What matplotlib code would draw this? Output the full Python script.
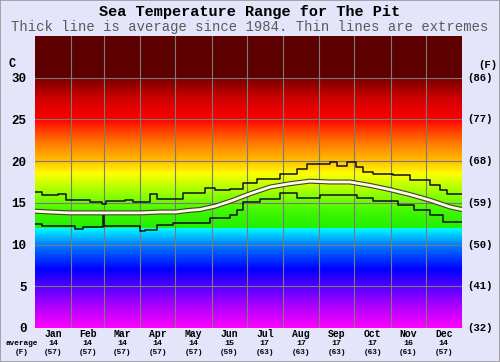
import numpy as np
import matplotlib
matplotlib.use("Agg")
import matplotlib.pyplot as plt
from matplotlib.colors import LinearSegmentedColormap
from matplotlib.patches import Rectangle
import matplotlib.transforms as mtransforms

# chart data
months = ["Jan", "Feb", "Mar", "Apr", "May", "Jun", "Jul", "Aug", "Sep", "Oct", "Nov", "Dec"]
month_days = [31, 28, 31, 30, 31, 30, 31, 31, 30, 31, 30, 31]
avg_c = [14, 14, 14, 14, 14, 15, 17, 17, 17, 17, 16, 14]
avg_f = [57, 57, 57, 57, 57, 59, 63, 63, 63, 63, 61, 57]

c_ticks = [0, 5, 10, 15, 20, 25, 30]
f_labels = ["(32)", "(41)", "(50)", "(59)", "(68)", "(77)", "(86)"]

# daily extremes, as steps (day of year, degC)
max_days = [0, 6, 20, 26.5, 47, 57, 61, 77, 84, 98, 104, 126.5, 145, 154, 167, 178, 190,
            209, 224, 232.5, 252, 258, 267, 274, 280, 289, 306, 320.5, 337.6, 346, 352, 365]
max_vals = [16.3, 16.0, 16.1, 15.4, 15.1, 14.9, 15.2, 15.4, 15.1, 16.1, 15.5, 16.2, 16.8, 16.6,
            16.7, 17.4, 17.8, 18.5, 19.0, 19.6, 19.9, 19.4, 19.9, 19.3, 18.7, 18.5, 18.3, 17.7,
            17.1, 16.6, 16.1, 16.1]

min_days = [0, 6, 34, 41, 58, 59, 90, 94, 104, 118, 150, 167, 173, 178, 192.5, 209, 224,
            244, 261, 275, 289, 310, 324, 338, 349, 365]
min_vals = [12.5, 12.2, 11.9, 12.1, 13.5, 12.2, 11.6, 11.7, 12.3, 12.6, 13.2, 13.5, 14.2, 15.1,
            15.5, 16.2, 15.6, 15.9, 16.0, 15.6, 15.2, 14.7, 14.1, 13.5, 12.7, 12.7]

avg_days = [0, 13, 30, 60, 90, 107, 120, 132, 141, 154, 167, 184, 201, 218, 235, 252,
            269, 286, 303, 320.5, 338, 355, 365]
avg_vals = [14.0, 13.9, 13.8, 13.8, 13.8, 13.9, 13.9, 14.1, 14.2, 14.6, 15.2, 16.1, 16.9,
            17.3, 17.6, 17.5, 17.5, 17.1, 16.6, 16.0, 15.3, 14.5, 14.2]

# colour band behind the plot
stops = [(0, "#ff00ff"), (2.5, "#b000ff"), (5, "#5000ff"), (7, "#0000ff"), (10, "#0080ff"),
         (11.97, "#00ffff"), (12.0, "#20f000"), (14, "#40f800"), (16, "#90ff00"),
         (17.5, "#d0ff00"), (18.5, "#ffff00"), (20, "#ffc000"), (22, "#ff8000"),
         (24, "#ff3000"), (25, "#ff0000"), (27.5, "#d00000"), (29.97, "#780000"),
         (30, "#5e0000"), (35, "#5e0000")]
ymax = 35
cmap = LinearSegmentedColormap.from_list("sea", [(t / ymax, c) for t, c in stops], N=1024)

bg = "#e4e4fa"
fig = plt.figure(figsize=(5, 3.62), dpi=100, facecolor=bg)
ax = fig.add_axes([0.07, 34 / 362, 0.854, 292 / 362])

grad = np.linspace(0, ymax, 700).reshape(-1, 1)
ax.imshow(grad, cmap=cmap, origin="lower", extent=[0, 365, 0, ymax], aspect="auto",
          vmin=0, vmax=ymax, interpolation="bilinear")
ax.set_xlim(0, 365)
ax.set_ylim(0, ymax)

# grid
bounds = np.cumsum(month_days)[:-1]
for b in bounds:
    ax.axvline(b, color="#7a7a7a", lw=0.8, zorder=2)
for t in c_ticks[1:]:
    ax.axhline(t, color="#7a7a7a", lw=0.8, zorder=2)

# extremes and average
ax.step(max_days, max_vals, where="post", color="#101010", lw=1.1, zorder=3)
ax.step(min_days, min_vals, where="post", color="#101010", lw=1.1, zorder=3)
ax.plot(avg_days, avg_vals, color="#404030", lw=3.6, zorder=4)
ax.plot(avg_days, avg_vals, color="#fffbe0", lw=2.0, zorder=5)

for s in ax.spines.values():
    s.set_visible(False)
ax.set_xticks([])
ax.set_yticks(c_ticks)
ax.set_yticklabels([str(t) for t in c_ticks], fontfamily="Liberation Mono",
                   fontweight="bold", fontsize=9)
ax.tick_params(axis="y", length=0, pad=6)

mono = "Liberation Mono"
trans_r = mtransforms.blended_transform_factory(ax.transAxes, ax.transData)
for t, lab in zip(c_ticks, f_labels):
    ax.text(1.012, t, lab, transform=trans_r, ha="left", va="center",
            fontfamily=mono, fontweight="bold", fontsize=7.7)

ax.text(-0.055, 30.9, "C", transform=trans_r, ha="center", va="bottom",
        fontfamily=mono, fontweight="bold", fontsize=8.5)
ax.text(1.06, 30.9, "(F)", transform=trans_r, ha="center", va="bottom",
        fontfamily=mono, fontweight="bold", fontsize=7.7)

# month labels under the plot
trans_b = mtransforms.blended_transform_factory(ax.transData, fig.transFigure)
starts = np.concatenate([[0], bounds])
for m, s, d, c, f in zip(months, starts, month_days, avg_c, avg_f):
    xc = s + d / 2
    ax.text(xc, 1 - 334 / 362, m, transform=trans_b, ha="center", va="center",
            fontfamily=mono, fontweight="bold", fontsize=7)
    ax.text(xc, 1 - 343.5 / 362, str(c), transform=trans_b, ha="center", va="center",
            fontfamily=mono, fontweight="bold", fontsize=6)
    ax.text(xc, 1 - 352.5 / 362, f"({f})", transform=trans_b, ha="center", va="center",
            fontfamily=mono, fontweight="bold", fontsize=5.6)
fig.text(22 / 500, 1 - 343.5 / 362, "average", ha="center", va="center",
         fontfamily=mono, fontweight="bold", fontsize=5.6)
fig.text(22 / 500, 1 - 352.5 / 362, "(F)", ha="center", va="center",
         fontfamily=mono, fontweight="bold", fontsize=5.6)

# titles
fig.text(0.5, 1 - 12 / 362, "Sea Temperature Range for The Pit", ha="center", va="center",
         fontfamily=mono, fontweight="bold", fontsize=11)
fig.text(0.5, 1 - 27 / 362, "Thick line is average since 1984. Thin lines are extremes",
         ha="center", va="center", fontfamily=mono, fontsize=10, color="#5a5a5a")

fig.add_artist(Rectangle((0, 0), 1, 1, transform=fig.transFigure, fill=False,
                         edgecolor="#999999", lw=1.2))

fig.savefig("out.png", dpi=100, facecolor=bg)
